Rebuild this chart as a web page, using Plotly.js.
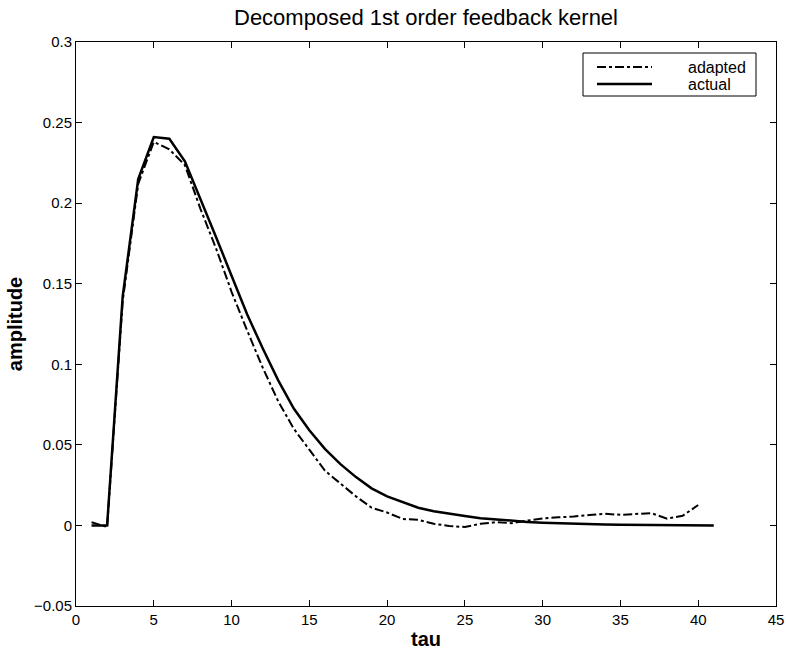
<!DOCTYPE html>
<html>
<head>
<meta charset="utf-8">
<script src="https://cdn.plot.ly/plotly-3.0.1.min.js"></script>
<style>html,body{margin:0;padding:0;background:#fff;}#chart{width:786px;height:654px;}</style>
</head>
<body>
<div id="chart"></div>
<script>
// tau samples
const tauActual = [1,2,3,4,5,6,7,8,9,10,11,12,13,14,15,16,17,18,19,20,21,22,23,24,25,26,27,28,29,30,31,32,33,34,35,36,37,38,39,40,41];
const actual = [0,0,0.142,0.215,0.241,0.240,0.226,0.203,0.179,0.155,0.131,0.110,0.090,0.0725,0.059,0.0475,0.038,0.030,0.023,0.018,0.0145,0.011,0.0088,0.0072,0.0058,0.0045,0.0036,0.0028,0.0022,0.0017,0.0013,0.001,0.0007,0.0005,0.0004,0.0003,0.0002,0.0001,0.0001,0.0001,0];
const tauAdapted = [1,2,3,4,5,6,7,8,9,10,11,12,13,14,15,16,17,18,19,20,21,22,23,24,25,26,27,28,29,30,31,32,33,34,35,36,37,38,39,40];
const adapted = [0.002,-0.001,0.139,0.212,0.238,0.2334,0.2236,0.1965,0.172,0.145,0.121,0.098,0.077,0.060,0.047,0.034,0.026,0.018,0.011,0.008,0.004,0.0035,0.001,-0.0003,-0.001,0.001,0.002,0.0014,0.003,0.0043,0.005,0.0055,0.0065,0.0072,0.0066,0.007,0.0076,0.0042,0.006,0.0127];

const seriesNames = ["adapted", "actual"];
const xTicks = [0,5,10,15,20,25,30,35,40,45];
const xTickText = ["0","5","10","15","20","25","30","35","40","45"];
const yTicks = [-0.05,0,0.05,0.1,0.15,0.2,0.25,0.3];
const yTickText = ["\u22120.05","0","0.05","0.1","0.15","0.2","0.25","0.3"];

const font = "Liberation Sans, Arial, Helvetica, sans-serif";
const W = 786, H = 654;
const M = {l: 76, r: 10, t: 42, b: 48};
const pw = W - M.l - M.r, ph = H - M.t - M.b;
// pixel -> paper helpers for legend box placement
const px = v => (v - M.l) / pw;
const py = v => (H - M.b - v) / ph;

const dashes = ["dashdot", "solid"];
const widths = [2, 2.5];

const traces = seriesNames.map((n, i) => ({
  x: i === 0 ? tauAdapted : tauActual,
  y: i === 0 ? adapted : actual,
  mode: "lines", name: n, showlegend: false,
  line: {color: "#000", width: widths[i], dash: dashes[i]}
}));

const axisCommon = {
  showgrid: false, zeroline: false, showline: true, linecolor: "#000", linewidth: 1,
  mirror: "ticks", ticks: "inside", ticklen: 6, tickcolor: "#000",
  tickfont: {family: font, size: 15, color: "#000"}
};

// legend drawn as box + sample lines + text
const legRows = [67, 84];
const shapes = [
  {type: "rect", xref: "paper", yref: "paper", x0: px(583), x1: px(756), y0: py(96), y1: py(53),
   line: {color: "#000", width: 1}, fillcolor: "#fff", layer: "above"}
];
const annotations = [];
seriesNames.forEach((n, i) => {
  shapes.push({type: "line", xref: "paper", yref: "paper", x0: px(597), x1: px(652),
    y0: py(legRows[i]), y1: py(legRows[i]), line: {color: "#000", width: widths[i], dash: dashes[i]}, layer: "above"});
  annotations.push({xref: "paper", yref: "paper", x: px(687), y: py(legRows[i]), xanchor: "left", yanchor: "middle",
    text: n, showarrow: false, borderpad: 0, font: {family: font, size: 16, color: "#000"}});
});

const layout = {
  width: W, height: H, margin: M,
  paper_bgcolor: "#fff", plot_bgcolor: "#fff",
  font: {family: font, color: "#000"},
  title: {text: "Decomposed 1st order feedback kernel", font: {family: font, size: 22, color: "#000"},
          x: 0.5, xref: "paper", y: 1 - 17/654, yref: "container", yanchor: "middle"},
  xaxis: Object.assign({}, axisCommon, {
    range: [0, 45], tickvals: xTicks, ticktext: xTickText,
    title: {text: "<b>tau</b>", font: {family: font, size: 20, color: "#000"}, standoff: 4}
  }),
  yaxis: Object.assign({}, axisCommon, {
    range: [-0.05, 0.3], tickvals: yTicks, ticktext: yTickText,
    title: {text: "<b>amplitude</b>", font: {family: font, size: 20, color: "#000"}, standoff: 6}
  }),
  showlegend: false,
  shapes: shapes,
  annotations: annotations
};

Plotly.newPlot("chart", traces, layout, {displayModeBar: false, staticPlot: true});
</script>
</body>
</html>
